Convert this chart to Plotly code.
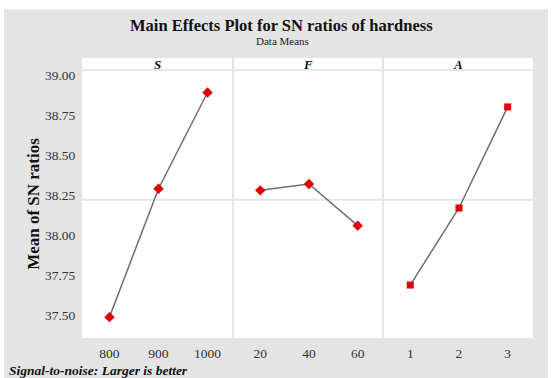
import plotly.graph_objects as go

# ---- data ----
factors = ["S", "F", "A"]
levels_S = ["800", "900", "1000"]
levels_F = ["20", "40", "60"]
levels_A = ["1", "2", "3"]
sn_S = [37.49, 38.29, 38.89]
sn_F = [38.28, 38.32, 38.06]
sn_A = [37.69, 38.17, 38.80]
y_ticks = [37.50, 37.75, 38.00, 38.25, 38.50, 38.75, 39.00]

W, H = 552, 378
L, R, T, B = 82, 533, 58, 338  # plot area pixels
STRIP_B = 70
pw, ph = R - L, B - T

def px(x):
    return (x - L) / pw

def py(y):
    return (B - y) / ph

SERIF = "Liberation Serif, Times New Roman, serif"
RED = "#e00000"
LINE = "#6e6e6e"
GRID = "#e6e6e6"

panels = [
    (levels_S, sn_S, "diamond"),
    (levels_F, sn_F, "diamond"),
    (levels_A, sn_A, "square"),
]
dividers = [L, 233, 383, R]
all_vals = sn_S + sn_F + sn_A
grand_mean = sum(all_vals) / len(all_vals)

fig = go.Figure()
layout = dict(
    width=W, height=H,
    margin=dict(l=L, r=W - R, t=T, b=H - B, pad=0),
    paper_bgcolor="white",
    plot_bgcolor="rgba(0,0,0,0)",
    showlegend=False,
    font=dict(family=SERIF, color="#222"),
)

shapes = [
    dict(type="rect", xref="paper", yref="paper", x0=px(4), x1=px(548), y0=py(378), y1=py(9.5),
         fillcolor="#e4e4e4", line_width=0, layer="below"),
    dict(type="rect", xref="paper", yref="paper", x0=0, x1=1, y0=0, y1=1,
         fillcolor="white", line_width=0, layer="below"),
    dict(type="line", xref="paper", yref="paper", x0=0, x1=1, y0=py(STRIP_B), y1=py(STRIP_B),
         line=dict(color=GRID, width=2), layer="below"),
    # grand-mean reference line across all panels
    dict(type="line", xref="paper", yref="y", x0=0, x1=1, y0=grand_mean, y1=grand_mean,
         line=dict(color=GRID, width=2), layer="below"),
]
for d in dividers[1:-1]:
    shapes.append(dict(type="line", xref="paper", yref="paper", x0=px(d), x1=px(d), y0=0, y1=1,
                       line=dict(color=GRID, width=2), layer="below"))

ymin, ymax = 37.36, 39.03
annotations = []
for i, (lev, vals, sym) in enumerate(panels):
    n = i + 1
    xa = "x" if n == 1 else f"x{n}"
    ya = "y" if n == 1 else f"y{n}"
    fig.add_trace(go.Scatter(
        x=lev, y=vals, mode="lines+markers", xaxis=xa, yaxis=ya,
        line=dict(color=LINE, width=1.5),
        marker=dict(symbol=sym, color=RED, size=8 if sym == "diamond" else 7),
        hoverinfo="skip",
    ))
    xkey = "xaxis" if n == 1 else f"xaxis{n}"
    ykey = "yaxis" if n == 1 else f"yaxis{n}"
    layout[xkey] = dict(
        domain=[px(dividers[i]), px(dividers[i + 1])], anchor=ya,
        type="category", categoryorder="array", categoryarray=lev,
        range=[-0.56, 2.52], showgrid=False, zeroline=False, showline=False,
        ticks="", tickfont=dict(family=SERIF, size=13.5, color="#333"),
        ticklabelstandoff=5,
    )
    layout[ykey] = dict(
        domain=[0, py(STRIP_B)], anchor=xa, range=[ymin, ymax],
        showgrid=False, zeroline=False, showline=False,
        tickvals=y_ticks, ticktext=[f"{v:.2f}" for v in y_ticks],
        showticklabels=(n == 1), ticks="outside" if n == 1 else "",
        ticklen=3, tickcolor="#d0d0d0",
        tickfont=dict(family=SERIF, size=13.5, color="#333"),
    )
    annotations.append(dict(
        text=f"<b><i>{factors[i]}</i></b>", xref="paper", yref="paper",
        x=px((dividers[i] + dividers[i + 1]) / 2), y=py(64), xanchor="center", yanchor="middle",
        showarrow=False, font=dict(family=SERIF, size=13, color="#111"),
    ))

layout["yaxis"]["title"] = dict(
    text="<b>Mean of SN ratios</b>", font=dict(family=SERIF, size=17, color="#111"), standoff=0,
)

annotations += [
    dict(text="<b>Main Effects Plot for SN ratios of hardness</b>", xref="paper", yref="paper",
         x=px(281), y=py(26), xanchor="center", yanchor="middle", showarrow=False,
         font=dict(family=SERIF, size=16.5, color="#111")),
    dict(text="Data Means", xref="paper", yref="paper",
         x=px(282), y=py(41), xanchor="center", yanchor="middle", showarrow=False,
         font=dict(family=SERIF, size=11, color="#222")),
    dict(text="<b><i>Signal-to-noise: Larger is better</i></b>", xref="paper", yref="paper",
         x=px(7), y=py(370), xanchor="left", yanchor="middle", showarrow=False,
         font=dict(family=SERIF, size=13.5, color="#111")),
]
layout["shapes"] = shapes
layout["annotations"] = annotations
fig.update_layout(**layout)
fig.write_html("out.html")
